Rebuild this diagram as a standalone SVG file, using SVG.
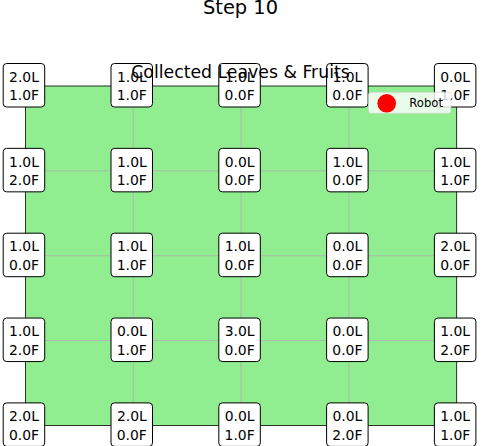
<svg xmlns="http://www.w3.org/2000/svg" width="481" height="446" viewBox="0 0 481 446">
<style>
.t{font-family:"DejaVu Sans",sans-serif;fill:#000}
.v{font-size:13.9px;text-anchor:middle}
.b{fill:#fff;stroke:#000;stroke-width:1}
.g{stroke:#b0b0b0;stroke-width:0.8}
</style>
<rect width="481" height="446" fill="#fff"/>
<rect x="25.5" y="86" width="431.2" height="339.4" fill="#90ee90"/>
<g id="grid">
<line class="g" x1="133.3" y1="86" x2="133.3" y2="425.4"/>
<line class="g" x1="241.1" y1="86" x2="241.1" y2="425.4"/>
<line class="g" x1="348.9" y1="86" x2="348.9" y2="425.4"/>
<line class="g" x1="25.5" y1="170.85" x2="456.7" y2="170.85"/>
<line class="g" x1="25.5" y1="255.7" x2="456.7" y2="255.7"/>
<line class="g" x1="25.5" y1="340.55" x2="456.7" y2="340.55"/>
</g>
<rect x="25.5" y="86" width="431.2" height="339.4" fill="none" stroke="#000" stroke-width="0.8"/>
<text class="t" x="240.5" y="13.8" font-size="19.4" text-anchor="middle">Step 10</text>
<g id="cells">
<g id="n00"><rect class="b" x="3.2" y="63.5" width="41.5" height="43.5" rx="3.5"/><text class="t v" x="24" y="81.7">2.0L</text><text class="t v" x="24" y="100.2">1.0F</text></g>
<g id="n01"><rect class="b" x="111" y="63.5" width="41.5" height="43.5" rx="3.5"/><text class="t v" x="131.8" y="81.7">1.0L</text><text class="t v" x="131.8" y="100.2">1.0F</text></g>
<g id="n02"><rect class="b" x="218.8" y="63.5" width="41.5" height="43.5" rx="3.5"/><text class="t v" x="239.6" y="81.7">1.0L</text><text class="t v" x="239.6" y="100.2">0.0F</text></g>
<g id="n03"><rect class="b" x="326.6" y="63.5" width="41.5" height="43.5" rx="3.5"/><text class="t v" x="347.4" y="81.7">1.0L</text><text class="t v" x="347.4" y="100.2">0.0F</text></g>
<g id="n04"><rect class="b" x="434.4" y="63.5" width="41.5" height="43.5" rx="3.5"/><text class="t v" x="455.2" y="81.7">0.0L</text><text class="t v" x="455.2" y="100.2">1.0F</text></g>

<g id="n10"><rect class="b" x="3.2" y="148.35" width="41.5" height="43.5" rx="3.5"/><text class="t v" x="24" y="166.55">1.0L</text><text class="t v" x="24" y="185.05">2.0F</text></g>
<g id="n11"><rect class="b" x="111" y="148.35" width="41.5" height="43.5" rx="3.5"/><text class="t v" x="131.8" y="166.55">1.0L</text><text class="t v" x="131.8" y="185.05">1.0F</text></g>
<g id="n12"><rect class="b" x="218.8" y="148.35" width="41.5" height="43.5" rx="3.5"/><text class="t v" x="239.6" y="166.55">0.0L</text><text class="t v" x="239.6" y="185.05">0.0F</text></g>
<g id="n13"><rect class="b" x="326.6" y="148.35" width="41.5" height="43.5" rx="3.5"/><text class="t v" x="347.4" y="166.55">1.0L</text><text class="t v" x="347.4" y="185.05">0.0F</text></g>
<g id="n14"><rect class="b" x="434.4" y="148.35" width="41.5" height="43.5" rx="3.5"/><text class="t v" x="455.2" y="166.55">1.0L</text><text class="t v" x="455.2" y="185.05">1.0F</text></g>

<g id="n20"><rect class="b" x="3.2" y="233.2" width="41.5" height="43.5" rx="3.5"/><text class="t v" x="24" y="251.4">1.0L</text><text class="t v" x="24" y="269.9">0.0F</text></g>
<g id="n21"><rect class="b" x="111" y="233.2" width="41.5" height="43.5" rx="3.5"/><text class="t v" x="131.8" y="251.4">1.0L</text><text class="t v" x="131.8" y="269.9">1.0F</text></g>
<g id="n22"><rect class="b" x="218.8" y="233.2" width="41.5" height="43.5" rx="3.5"/><text class="t v" x="239.6" y="251.4">1.0L</text><text class="t v" x="239.6" y="269.9">0.0F</text></g>
<g id="n23"><rect class="b" x="326.6" y="233.2" width="41.5" height="43.5" rx="3.5"/><text class="t v" x="347.4" y="251.4">0.0L</text><text class="t v" x="347.4" y="269.9">0.0F</text></g>
<g id="n24"><rect class="b" x="434.4" y="233.2" width="41.5" height="43.5" rx="3.5"/><text class="t v" x="455.2" y="251.4">2.0L</text><text class="t v" x="455.2" y="269.9">0.0F</text></g>

<g id="n30"><rect class="b" x="3.2" y="318.05" width="41.5" height="43.5" rx="3.5"/><text class="t v" x="24" y="336.25">1.0L</text><text class="t v" x="24" y="354.75">2.0F</text></g>
<g id="n31"><rect class="b" x="111" y="318.05" width="41.5" height="43.5" rx="3.5"/><text class="t v" x="131.8" y="336.25">0.0L</text><text class="t v" x="131.8" y="354.75">1.0F</text></g>
<g id="n32"><rect class="b" x="218.8" y="318.05" width="41.5" height="43.5" rx="3.5"/><text class="t v" x="239.6" y="336.25">3.0L</text><text class="t v" x="239.6" y="354.75">0.0F</text></g>
<g id="n33"><rect class="b" x="326.6" y="318.05" width="41.5" height="43.5" rx="3.5"/><text class="t v" x="347.4" y="336.25">0.0L</text><text class="t v" x="347.4" y="354.75">0.0F</text></g>
<g id="n34"><rect class="b" x="434.4" y="318.05" width="41.5" height="43.5" rx="3.5"/><text class="t v" x="455.2" y="336.25">1.0L</text><text class="t v" x="455.2" y="354.75">2.0F</text></g>

<g id="n40"><rect class="b" x="3.2" y="402.9" width="41.5" height="43.5" rx="3.5"/><text class="t v" x="24" y="421.1">2.0L</text><text class="t v" x="24" y="439.6">0.0F</text></g>
<g id="n41"><rect class="b" x="111" y="402.9" width="41.5" height="43.5" rx="3.5"/><text class="t v" x="131.8" y="421.1">2.0L</text><text class="t v" x="131.8" y="439.6">0.0F</text></g>
<g id="n42"><rect class="b" x="218.8" y="402.9" width="41.5" height="43.5" rx="3.5"/><text class="t v" x="239.6" y="421.1">0.0L</text><text class="t v" x="239.6" y="439.6">1.0F</text></g>
<g id="n43"><rect class="b" x="326.6" y="402.9" width="41.5" height="43.5" rx="3.5"/><text class="t v" x="347.4" y="421.1">0.0L</text><text class="t v" x="347.4" y="439.6">2.0F</text></g>
<g id="n44"><rect class="b" x="434.4" y="402.9" width="41.5" height="43.5" rx="3.5"/><text class="t v" x="455.2" y="421.1">1.0L</text><text class="t v" x="455.2" y="439.6">1.0F</text></g>
</g>
<g id="legend">
<rect x="368.5" y="92.3" width="82.5" height="21" rx="2.5" fill="#fff" fill-opacity="0.8" stroke="#ccc" stroke-opacity="0.8" stroke-width="0.8"/>
<circle cx="386.7" cy="103.3" r="9.3" fill="#f00"/>
<text class="t" x="409.3" y="107.2" font-size="11.6">Robot</text>
</g>
<text class="t" x="240.5" y="78" font-size="17.3" text-anchor="middle">Collected Leaves &amp; Fruits</text>
</svg>
